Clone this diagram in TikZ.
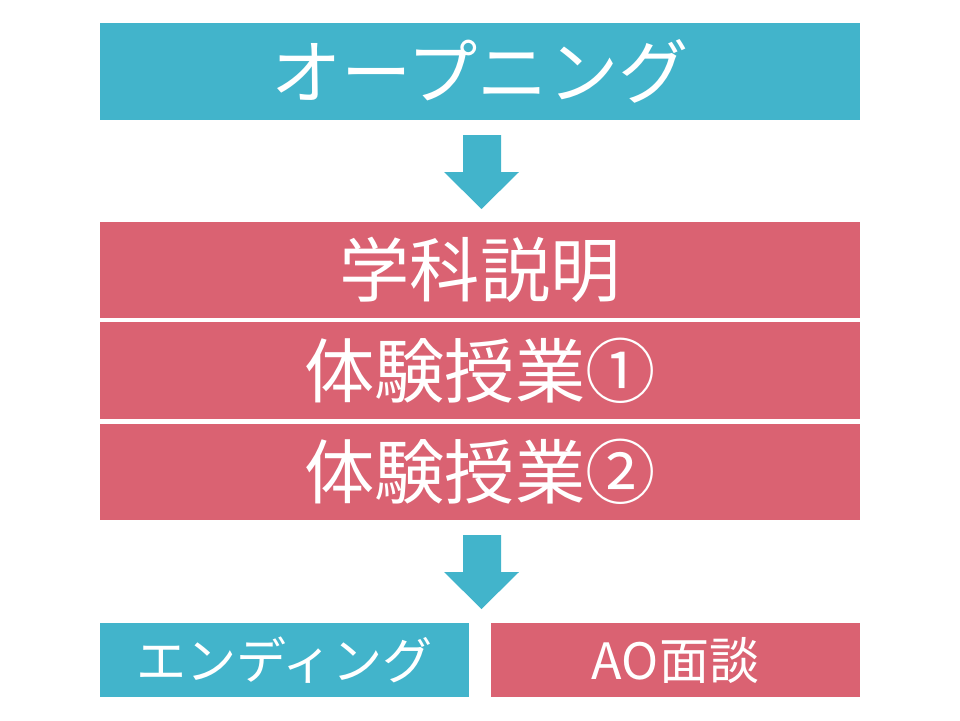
\documentclass[tikz,border=0pt]{standalone}
\usepackage{fontspec}
\setmainfont{Noto Sans CJK JP}
\usepackage{tikz}
\usetikzlibrary{positioning}

\definecolor{tealbox}{HTML}{42B4CB}
\definecolor{redbox}{HTML}{DA6272}

\begin{document}
\begin{tikzpicture}[
    x=0.02cm, y=-0.02cm,
    every node/.style={rectangle, inner sep=0pt, text=white},
    wide box/.style={minimum width=15.2cm, minimum height=1.93cm,
      font=\fontsize{40}{44}\selectfont},
    half box/.style={minimum width=7.38cm, minimum height=1.48cm,
      font=\fontsize{28.5}{32}\selectfont},
    down arrow/.style={fill=tealbox},
  ]

  \useasboundingbox (0,0) rectangle (960,720);

  \node[wide box, fill=tealbox] (open) at (480, 71.5) {オープニング};

  \node[wide box, fill=redbox] (intro)  at (480, 270)   {学科説明};
  \node[wide box, fill=redbox] (trial1) at (480, 370.5) {体験授業①};
  \node[wide box, fill=redbox] (trial2) at (480, 472)   {体験授業②};

  \node[half box, fill=tealbox] (ending)    at (284.5, 660) {エンディング};
  \node[half box, fill=redbox]  (interview) at (675.5, 660) {AO面談};

  % block arrows
  \fill[down arrow] (463,135) -- (501,135) -- (501,172) -- (519,172)
    -- (481.5,209) -- (444,172) -- (463,172) -- cycle;
  \fill[down arrow] (463,535) -- (501,535) -- (501,572) -- (519,572)
    -- (481.5,609) -- (444,572) -- (463,572) -- cycle;

\end{tikzpicture}
\end{document}
